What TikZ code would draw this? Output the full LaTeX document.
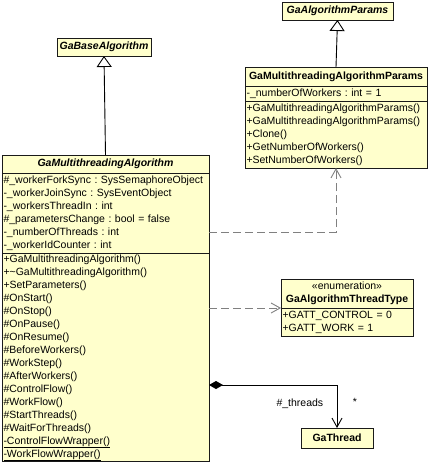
\documentclass[tikz,border=0pt]{standalone}
\usepackage{fontspec}
\setmainfont{Liberation Sans}
\usepackage{tikz}
\usetikzlibrary{arrows.meta, positioning}

\definecolor{classfill}{HTML}{FFFFCC}
\definecolor{boxline}{HTML}{1A1A1A}
\definecolor{depline}{HTML}{808080}
\newcommand{\umlfont}{\frenchspacing\fontsize{10.5}{13}\selectfont}
\newcommand{\staticop}[1]{\smash{\underline{#1}}}

\begin{document}
\begin{tikzpicture}[
    x=1pt, y=-1pt,
    classbox/.style={
        draw=boxline,
        fill=classfill,
        line width=0.9pt,
        outer sep=0pt,
        inner xsep=1.5pt,
        inner ysep=0pt,
        font=\umlfont
    },
    classhead/.style={
        classbox,
        font=\umlfont\bfseries,
        align=center,
        minimum height=18pt
    },
    abstracthead/.style={
        classhead,
        font=\umlfont\bfseries\itshape
    },
    members/.style={
        classbox,
        align=left,
        inner ysep=1pt,
        execute at begin node=\strut,
        execute at end node=\strut
    },
    enumhead/.style={
        classhead,
        inner ysep=1.5pt,
        execute at begin node=\strut,
        execute at end node=\strut
    },
    inherit/.style={
        line width=0.9pt,
        -{Triangle[open, length=11pt, width=15pt, fill=white]}
    },
    depend/.style={
        draw=depline,
        line width=0.9pt,
        dash pattern=on 8pt off 4pt,
        -{Straight Barb[length=9pt, width=10pt]}
    },
    compose/.style={
        line width=0.9pt,
        {Diamond[length=14pt, width=8pt]}-{Straight Barb[length=9pt, width=10pt]}
    }
]
    \useasboundingbox (0,0) rectangle (430,462);

    % Base classes
    \node[abstracthead, minimum width=94pt] (base) at (104,47) {GaBaseAlgorithm};
    \node[abstracthead, minimum width=111pt] (baseparams) at (337.5,11) {GaAlgorithmParams};

    % GaMultithreadingAlgorithm
    \node[abstracthead, text width=204pt, anchor=north west] (alghead) at (2,155) {GaMultithreadingAlgorithm};
    \node[members, text width=204pt, below=0pt of alghead] (algattr) {%
        \#\_workerForkSync : SysSemaphoreObject\\
        -\_workerJoinSync : SysEventObject\\
        -\_workersThreadIn : int\\
        \#\_parametersChange : bool = false\\
        -\_numberOfThreads : int\\
        -\_workerIdCounter : int};
    \node[members, inner ysep=0pt, text width=204pt, below=0pt of algattr] (algops) {%
        +GaMultithreadingAlgorithm()\\
        +\textasciitilde GaMultithreadingAlgorithm()\\
        +SetParameters()\\
        \#OnStart()\\
        \#OnStop()\\
        \#OnPause()\\
        \#OnResume()\\
        \#BeforeWorkers()\\
        \#WorkStep()\\
        \#AfterWorkers()\\
        \#ControlFlow()\\
        \#WorkFlow()\\
        \#StartThreads()\\
        \#WaitForThreads()\\
        \staticop{-ControlFlowWrapper()}\\
        \staticop{-WorkFlowWrapper()}};

    % GaMultithreadingAlgorithmParams
    \node[classhead, minimum height=19pt, text width=179pt, anchor=north west] (paramshead) at (245,67) {GaMultithreadingAlgorithmParams};
    \node[members, text width=179pt, below=0pt of paramshead] (paramsattr) {-\_numberOfWorkers : int = 1};
    \node[members, text width=179pt, below=0pt of paramsattr] (paramsops) {%
        +GaMultithreadingAlgorithmParams()\\
        +GaMultithreadingAlgorithmParams()\\
        +Clone()\\
        +GetNumberOfWorkers()\\
        +SetNumberOfWorkers()};

    % Thread type enumeration
    \node[enumhead, text width=129pt, anchor=north west] (enumhead) at (281,279) {{\mdseries «enumeration»}\\GaAlgorithmThreadType};
    \node[members, text width=129pt, below=0pt of enumhead] (enumattr) {%
        +GATT\_CONTROL = 0\\
        +GATT\_WORK = 1};

    % Thread
    \node[classhead, minimum width=72pt, minimum height=20pt] (thread) at (337,438) {GaThread};

    % Connections
    \draw[inherit] (alghead.north) -- (base.south);
    \draw[inherit] (paramshead.north) -- (baseparams.south);
    \draw[depend] ([yshift=-77pt]alghead.north east) -| (paramsops.south);
    \draw[depend] (algops.east |- enumhead.south west) -- (enumhead.south west);
    \draw[compose] ([yshift=-230pt]alghead.north east) -| (thread.north)
        node[pos=0.72, left=10pt, font=\umlfont] {\#\_threads}
        node[pos=0.70, right=12pt, font=\umlfont] {*};

\end{tikzpicture}
\end{document}
